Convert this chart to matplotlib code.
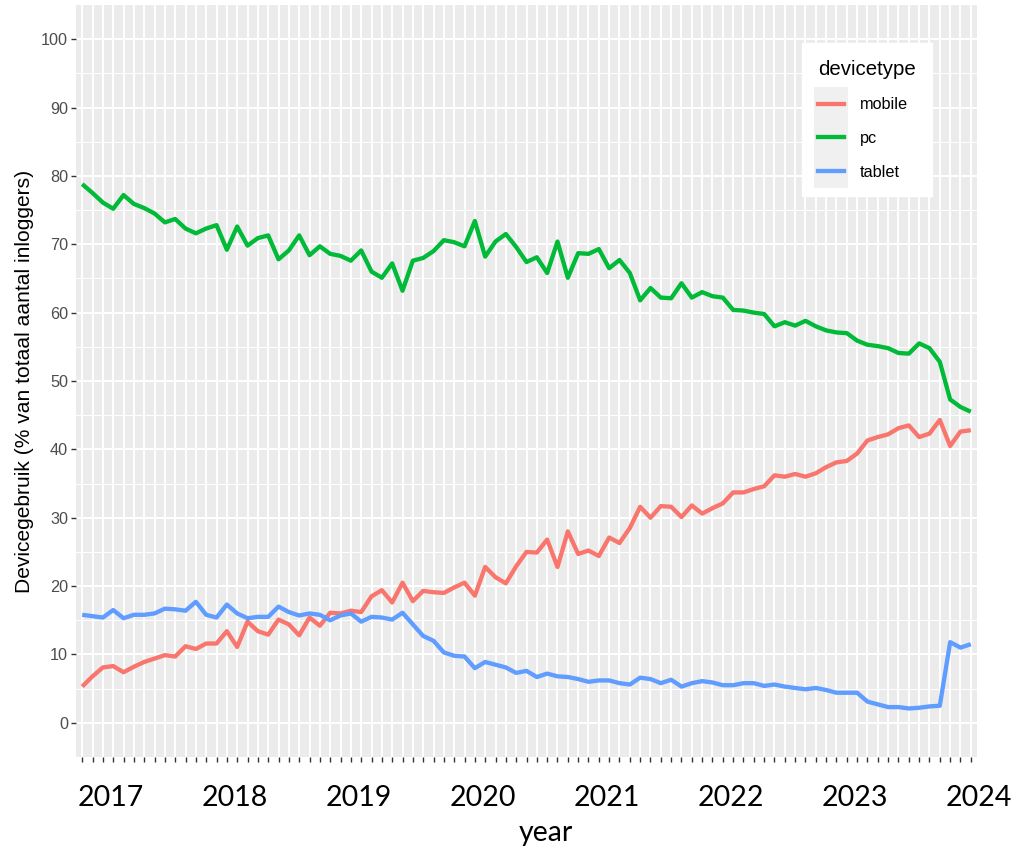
import matplotlib
matplotlib.use("Agg")
import matplotlib.pyplot as plt
import matplotlib.transforms as mtransforms
from matplotlib.patches import Rectangle
import pandas as pd

plt.rcParams['font.family'] = ['Liberation Sans', 'DejaVu Sans']

# monthly categories (discrete x axis, one per month)
months = pd.date_range('2016-10-01', '2023-12-01', freq='MS')

pc = [78.8, 77.5, 76.1, 75.2, 77.2, 75.9, 75.3, 74.5, 73.2, 73.7,
      72.3, 71.6, 72.3, 72.8, 69.2, 72.6, 69.8, 70.9, 71.3, 67.8,
      69.1, 71.3, 68.4, 69.7, 68.6, 68.3, 67.6, 69.1, 66.0, 65.1,
      67.2, 63.2, 67.6, 68.0, 69.0, 70.6, 70.3, 69.7, 73.4, 68.2,
      70.4, 71.5, 69.6, 67.4, 68.1, 65.8, 70.4, 65.1, 68.7, 68.6,
      69.3, 66.5, 67.7, 65.8, 61.8, 63.6, 62.2, 62.1, 64.3, 62.2,
      63.0, 62.4, 62.2, 60.4, 60.3, 60.0, 59.8, 58.0, 58.6, 58.1,
      58.8, 58.0, 57.4, 57.1, 57.0, 55.9, 55.3, 55.1, 54.8, 54.1,
      54.0, 55.5, 54.8, 52.8, 47.3, 46.2, 45.5]

mobile = [5.3, 6.8, 8.1, 8.3, 7.4, 8.2, 8.9, 9.4, 9.9, 9.7,
          11.2, 10.8, 11.6, 11.6, 13.4, 11.1, 14.8, 13.4, 12.9, 15.1,
          14.4, 12.8, 15.4, 14.2, 16.1, 16.0, 16.4, 16.2, 18.5, 19.4,
          17.6, 20.5, 17.8, 19.3, 19.1, 19.0, 19.8, 20.5, 18.6, 22.8,
          21.3, 20.4, 22.9, 25.0, 24.9, 26.8, 22.8, 28.0, 24.7, 25.2,
          24.4, 27.1, 26.3, 28.5, 31.6, 30.0, 31.7, 31.6, 30.1, 31.8,
          30.6, 31.4, 32.1, 33.7, 33.7, 34.2, 34.6, 36.2, 36.0, 36.4,
          36.0, 36.5, 37.4, 38.1, 38.3, 39.4, 41.3, 41.8, 42.2, 43.1,
          43.5, 41.8, 42.3, 44.3, 40.5, 42.6, 42.8]

tablet = [15.8, 15.6, 15.4, 16.5, 15.3, 15.8, 15.8, 16.0, 16.7, 16.6,
          16.4, 17.7, 15.8, 15.4, 17.3, 16.0, 15.3, 15.5, 15.5, 17.0,
          16.2, 15.7, 16.0, 15.8, 15.0, 15.7, 16.0, 14.8, 15.5, 15.4,
          15.1, 16.1, 14.4, 12.7, 12.0, 10.3, 9.8, 9.7, 8.0, 8.9,
          8.5, 8.1, 7.3, 7.6, 6.7, 7.2, 6.8, 6.7, 6.4, 6.0,
          6.2, 6.2, 5.8, 5.6, 6.6, 6.4, 5.8, 6.3, 5.3, 5.8,
          6.1, 5.9, 5.5, 5.5, 5.8, 5.8, 5.4, 5.6, 5.3, 5.1,
          4.9, 5.1, 4.8, 4.4, 4.4, 4.4, 3.1, 2.7, 2.3, 2.3,
          2.1, 2.2, 2.4, 2.5, 11.8, 11.0, 11.5]

series_names = ['mobile', 'pc', 'tablet']
series_colors = ['#F8766D', '#00BA38', '#619CFF']
year_labels = [2017, 2018, 2019, 2020, 2021, 2022, 2023, 2024]

fig = plt.figure(figsize=(10.24, 8.5), dpi=100)
ax = fig.add_axes([76 / 1024, 1 - 757 / 850, 901 / 1024, 752 / 850])
ax.set_facecolor('#EBEBEB')

x = list(range(len(months)))
for name, vals, col in zip(series_names, [mobile, pc, tablet], series_colors):
    ax.plot(x, vals, color=col, lw=3.1, label=name, solid_joinstyle='round',
            solid_capstyle='butt', zorder=3)

ax.set_xlim(-0.6, len(months) - 1 + 0.6)
ax.set_ylim(-5, 105)

ax.set_xticks(x)
ax.set_xticklabels([''] * len(x))
ax.set_yticks(range(0, 101, 10))
ax.set_yticks(range(5, 100, 10), minor=True)

ax.grid(True, which='major', color='white', lw=1.4)
ax.grid(True, which='minor', axis='y', color='white', lw=0.7)
ax.set_axisbelow(True)
for s in ax.spines.values():
    s.set_visible(False)

ax.tick_params(axis='both', which='major', length=3.6, width=1.0,
               color='#333333', labelcolor='#4D4D4D', labelsize=11.7, pad=2)
ax.tick_params(axis='y', which='minor', length=0)

ax.set_ylabel('Devicegebruik (% van totaal aantal inloggers)', fontsize=15.1,
              color='black', labelpad=5)

# year labels added under the month ticks
trans = mtransforms.blended_transform_factory(ax.transData, fig.transFigure)
for yr in year_labels:
    idx = (yr - months[0].year) * 12 - (months[0].month - 1) - 0.25
    ax.text(idx, 1 - 798 / 850, str(yr), transform=trans, ha='center',
            va='center', fontsize=20.5, family=['Lato', 'DejaVu Sans'])
fig.text(546 / 1024, 1 - 833 / 850, 'year', ha='center', va='center',
         fontsize=20.5, family=['Lato', 'DejaVu Sans'])

leg = ax.legend(loc='upper right', bbox_to_anchor=(0.95, 0.949),
                borderaxespad=0, title='devicetype', fontsize=11.7,
                title_fontsize=14.7, frameon=True, fancybox=False,
                handlelength=1.6, handletextpad=1.0, labelspacing=1.15,
                borderpad=1.0, alignment='left')
leg.get_frame().set_facecolor('white')
leg.get_frame().set_edgecolor('white')
leg.get_frame().set_alpha(1)

# grey key background behind the legend lines (ggplot style)
fig.canvas.draw()
ext = [h.get_window_extent() for h in leg.get_lines()]
cx = (ext[0].x0 + ext[0].x1) / 2
cy_top = (ext[0].y0 + ext[0].y1) / 2
cy_bot = (ext[-1].y0 + ext[-1].y1) / 2
step = (cy_top - cy_bot) / (len(ext) - 1)
fig.add_artist(Rectangle((cx - 17, cy_bot - step / 2), 34,
                         cy_top - cy_bot + step, transform=None,
                         facecolor='#F0F0F0', edgecolor='none', zorder=6))
# key lines again, on top of the background
for e, col in zip(ext, series_colors):
    yc = (e.y0 + e.y1) / 2
    fig.add_artist(plt.Line2D([e.x0, e.x1], [yc, yc], transform=None,
                              color=col, lw=3.1, zorder=7))

fig.savefig('out.png', dpi=100)
